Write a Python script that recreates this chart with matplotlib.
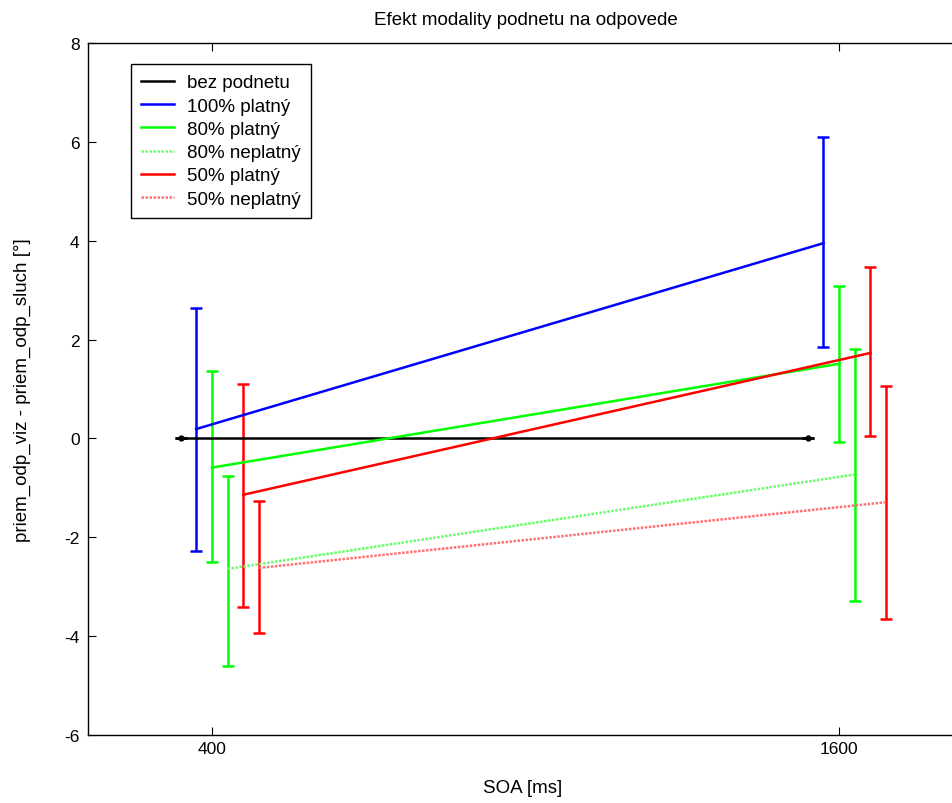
import matplotlib
matplotlib.use("Agg")
import matplotlib.pyplot as plt

plt.rcParams['font.family'] = ['Liberation Sans', 'DejaVu Sans']
plt.rcParams['axes.unicode_minus'] = False

# SOA values and per-series x offsets (ms)
soa = [400, 1600]
labels = ["bez podnetu", "100% platný", "80% platný", "80% neplatný",
          "50% platný", "50% neplatný"]
offsets = [-60, -30, 0, 30, 60, 90]

# means at SOA 400 / 1600
mean_none = [0.0, 0.0]
mean_100 = [0.19, 3.95]
mean_80v = [-0.59, 1.51]
mean_80i = [-2.64, -0.73]
mean_50v = [-1.14, 1.73]
mean_50i = [-2.62, -1.29]

# error half-widths (upper/lower)
up_none = [0.0, 0.0]
lo_none = [0.0, 0.0]
up_100 = [2.45, 2.15]
lo_100 = [2.47, 2.11]
up_80v = [1.95, 1.57]
lo_80v = [1.92, 1.58]
up_80i = [1.88, 2.53]
lo_80i = [1.96, 2.56]
up_50v = [2.25, 1.74]
lo_50v = [2.27, 1.68]
up_50i = [1.35, 2.35]
lo_50i = [1.32, 2.36]

means = [mean_none, mean_100, mean_80v, mean_80i, mean_50v, mean_50i]
ups = [up_none, up_100, up_80v, up_80i, up_50v, up_50i]
los = [lo_none, lo_100, lo_80v, lo_80i, lo_50v, lo_50i]
colors = ['black', '#0000ff', '#00ff00', '#00ff00', '#ff0000', '#ff0000']
line_colors = ['black', '#0000ff', '#00ff00', '#66ff66', '#ff0000', '#ff7070']
styles = ['-', '-', '-', (0, (1, 0.6)), '-', (0, (1, 0.6))]

fig = plt.figure(figsize=(9.52, 8.04), dpi=100)
ax = fig.add_axes([88 / 952, 68 / 804, 875 / 952, 692 / 804])

handles = []
for m, u, l, c, lc, ls, off, lab in zip(means, ups, los, colors, line_colors,
                                        styles, offsets, labels):
    xs = [s + off for s in soa]
    ax.errorbar(xs, m, yerr=[l, u], fmt='none', ecolor=c, elinewidth=1.8,
                capsize=4.5, capthick=1.8, zorder=2)
    h, = ax.plot(xs, m, color=lc, linestyle=ls, linewidth=1.8, label=lab,
                 zorder=3)
    handles.append(h)
    if lab == "bez podnetu":
        ax.plot(xs, m, linestyle='none', marker='o', markersize=3.5,
                color='black', zorder=4)

ax.set_xlim(163, 1837)
ax.set_ylim(-6, 8)
ax.set_xticks(soa)
ax.set_yticks(range(-6, 9, 2))
ax.tick_params(direction='in', length=6, width=0.8, top=True, right=True,
               labelsize=12.5)
ax.tick_params(axis='x', pad=4)
ax.tick_params(axis='y', pad=6)
for sp in ax.spines.values():
    sp.set_linewidth(1.0)

ax.set_title("Efekt modality podnetu na odpovede", fontsize=13.5, pad=14)
ax.set_xlabel("SOA [ms]", fontsize=13.5)
ax.set_ylabel("priem_odp_viz - priem_odp_sluch [°]", fontsize=13.5)
ax.xaxis.set_label_coords(0.497, -0.063)
ax.yaxis.set_label_coords(-0.065, 0.5)

leg = ax.legend(handles=handles, loc='upper left',
                bbox_to_anchor=(0.049, 0.970), borderaxespad=0,
                fontsize=13.5, handlelength=1.75, handletextpad=0.7,
                labelspacing=0.33, borderpad=0.55, fancybox=False,
                edgecolor='black', framealpha=1)
leg.get_frame().set_linewidth(1.0)

fig.savefig("out.png", dpi=100)
